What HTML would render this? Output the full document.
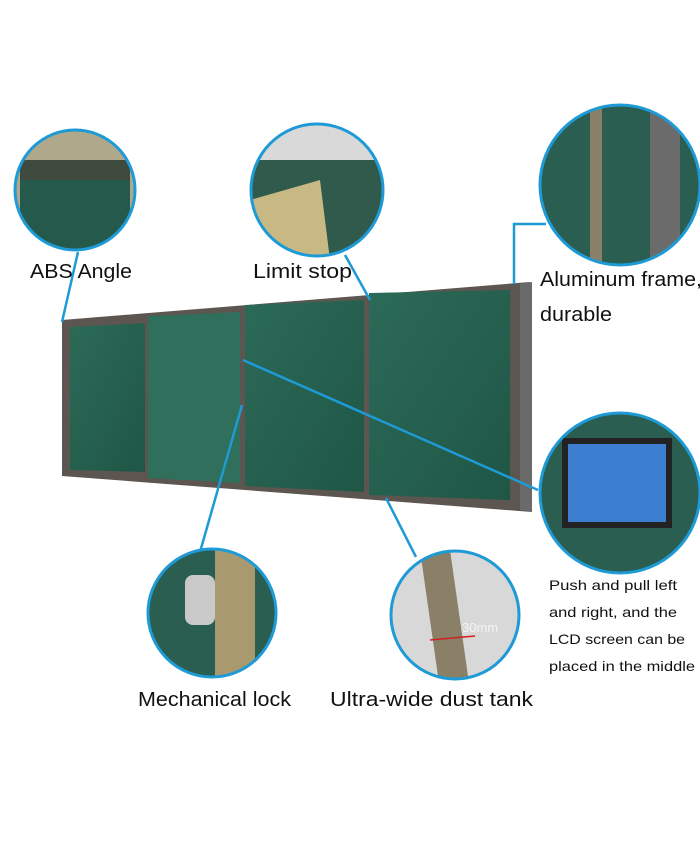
<!DOCTYPE html>
<html><head><meta charset="utf-8"><style>
body{margin:0;background:#fff;width:700px;height:850px;overflow:hidden}
svg{display:block}
text{font-family:"Liberation Sans",sans-serif;fill:#111}
</style></head><body>
<svg width="700" height="850" viewBox="0 0 700 850">
<defs>
<linearGradient id="g" x1="0" x2="1" y1="0" y2="1"><stop offset="0" stop-color="#2c6a58"/><stop offset="1" stop-color="#1f5646"/></linearGradient>
<clipPath id="c1"><circle cx="75" cy="190" r="60"/></clipPath>
<clipPath id="c2"><circle cx="317" cy="190" r="66"/></clipPath>
<clipPath id="c3"><circle cx="620" cy="185" r="80"/></clipPath>
<clipPath id="c4"><circle cx="620" cy="493" r="80"/></clipPath>
<clipPath id="c5"><circle cx="212" cy="613" r="64"/></clipPath>
<clipPath id="c6"><circle cx="455" cy="615" r="64"/></clipPath>
</defs>
<polygon points="62,320 530,282 532,512 62,476" fill="#5d5650"/>
<polygon points="520,284 532,282 532,512 520,510" fill="#6a6a6a"/>
<polygon points="70,327 145,323 145,472 70,470" fill="url(#g)"/>
<polygon points="148,316 240,312 240,483 148,478" fill="#2f6f5c"/>
<polygon points="245,305 364,300 364,492 245,486" fill="url(#g)"/>
<polygon points="369,293 510,290 510,500 369,495" fill="url(#g)"/>
<g stroke="#1e9ad6" stroke-width="2.5" fill="none">
<line x1="62" y1="322" x2="78" y2="252"/>
<line x1="370" y1="300" x2="345" y2="255"/>
<polyline points="514,284 514,224 546,224"/>
<line x1="243" y1="360" x2="538" y2="490"/>
<line x1="242" y1="405" x2="200" y2="552"/>
<line x1="386" y1="498" x2="416" y2="557"/>
</g>
<g clip-path="url(#c1)"><rect x="0" y="120" width="150" height="140" fill="#b0a88a"/><rect x="20" y="170" width="110" height="80" fill="#24594b"/><rect x="20" y="160" width="110" height="20" fill="#3f4a3e"/></g>
<circle cx="75" cy="190" r="60" fill="none" stroke="#1e9ad6" stroke-width="3"/>
<g clip-path="url(#c2)"><rect x="240" y="120" width="160" height="140" fill="#2f5a4c"/><polygon points="250,200 320,180 330,260 250,260" fill="#c8b884"/><rect x="240" y="120" width="160" height="40" fill="#d9d9d9"/></g>
<circle cx="317" cy="190" r="66" fill="none" stroke="#1e9ad6" stroke-width="3"/>
<g clip-path="url(#c3)"><rect x="530" y="100" width="180" height="170" fill="#2a5e50"/><rect x="590" y="100" width="12" height="170" fill="#8a7f6a"/><rect x="650" y="100" width="30" height="170" fill="#6b6b6b"/></g>
<circle cx="620" cy="185" r="80" fill="none" stroke="#1e9ad6" stroke-width="3"/>
<g clip-path="url(#c4)"><rect x="530" y="410" width="180" height="170" fill="#2a5e50"/><rect x="562" y="438" width="110" height="90" fill="#222"/><rect x="568" y="444" width="98" height="78" fill="#3c7fd0"/></g>
<circle cx="620" cy="493" r="80" fill="none" stroke="#1e9ad6" stroke-width="3"/>
<g clip-path="url(#c5)"><rect x="140" y="540" width="150" height="150" fill="#2a5e50"/><rect x="215" y="540" width="40" height="150" fill="#a89a6e"/><rect x="185" y="575" width="30" height="50" rx="8" fill="#c9c9c9"/></g>
<circle cx="212" cy="613" r="64" fill="none" stroke="#1e9ad6" stroke-width="3"/>
<g clip-path="url(#c6)"><rect x="385" y="545" width="150" height="150" fill="#d8d8d8"/><polygon points="420,550 450,550 470,690 440,690" fill="#8a8068"/><line x1="430" y1="640" x2="475" y2="636" stroke="#d02020" stroke-width="1.5"/></g>
<circle cx="455" cy="615" r="64" fill="none" stroke="#1e9ad6" stroke-width="3"/>
<text x="462" y="632" font-size="13" style="fill:#f4f4f4">30mm</text>
<text x="30" y="278" font-size="20" textLength="102" lengthAdjust="spacingAndGlyphs">ABS Angle</text>
<text x="253" y="278" font-size="20" textLength="99" lengthAdjust="spacingAndGlyphs">Limit stop</text>
<text x="540" y="286" font-size="20" textLength="162" lengthAdjust="spacingAndGlyphs">Aluminum frame,</text>
<text x="540" y="321" font-size="20" textLength="72" lengthAdjust="spacingAndGlyphs">durable</text>
<text x="549" y="590" font-size="14" textLength="128" lengthAdjust="spacingAndGlyphs">Push and pull left</text>
<text x="549" y="617" font-size="14" textLength="128" lengthAdjust="spacingAndGlyphs">and right, and the</text>
<text x="549" y="644" font-size="14" textLength="136" lengthAdjust="spacingAndGlyphs">LCD screen can be</text>
<text x="549" y="671" font-size="14" textLength="146" lengthAdjust="spacingAndGlyphs">placed in the middle</text>
<text x="138" y="706" font-size="20" textLength="153" lengthAdjust="spacingAndGlyphs">Mechanical lock</text>
<text x="330" y="706" font-size="20" textLength="203" lengthAdjust="spacingAndGlyphs">Ultra-wide dust tank</text>
</svg>
</body></html>
